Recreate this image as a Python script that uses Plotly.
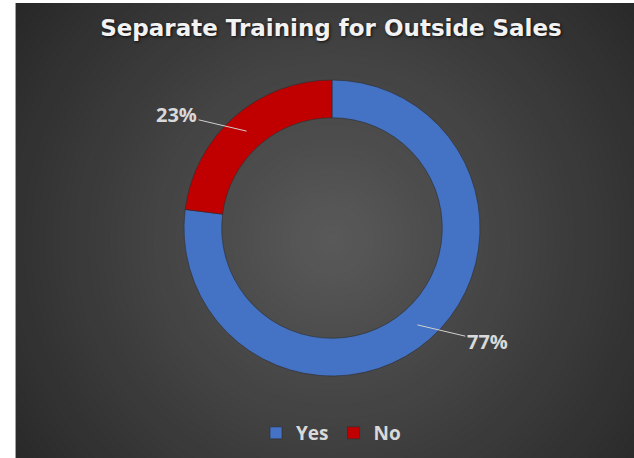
import math
import plotly.graph_objects as go

# Survey result: share of companies with separate training for outside sales
labels = ["Yes", "No"]
values = [77, 23]
colors = ["#4472C4", "#C00000"]
title_text = "Separate Training for Outside Sales"

W, H = 634, 458
CX, CY = 332, 228          # donut centre (px)
R_OUT = 148                # outer radius (px)
HOLE = 0.745

fig = go.Figure()

fig.add_trace(go.Pie(
    labels=labels,
    values=values,
    marker=dict(colors=colors, line=dict(color="rgba(45,45,45,0.6)", width=1)),
    hole=HOLE,
    sort=False,
    direction="clockwise",
    rotation=0,
    textinfo="none",
    hoverinfo="skip",
    domain=dict(
        x=[(CX - R_OUT) / W, (CX + R_OUT) / W],
        y=[1 - (CY + R_OUT) / H, 1 - (CY - R_OUT) / H],
    ),
))

# Percentage labels with leader lines from the middle of each ring segment
total = sum(values)
r_mid = R_OUT * (1 + HOLE) / 2
start = 0.0
for lab, v in zip(labels, values):
    theta = math.radians((start + v / 2) / total * 360)
    start += v
    px = CX + r_mid * math.sin(theta)
    py = CY - r_mid * math.cos(theta)
    side = 1 if math.sin(theta) >= 0 else -1
    fig.add_annotation(
        x=px / W, y=1 - py / H, xref="paper", yref="paper",
        text=f"{v}%",
        showarrow=True, arrowhead=0, arrowwidth=1, arrowcolor="#D0D0D0",
        ax=70 * side, ay=-22 * math.cos(theta),
        standoff=0,
        font=dict(family="Open Sans", size=20, color="#D9D9D9", weight="bold"),
    )

# Radial gradient background built from concentric discs
shapes = []
GX, GY = 332, 240
r_max = 430
steps = 60
c_in, c_out = 0x5A, 0x24
for i in range(steps, 0, -1):
    r = r_max * i / steps
    t = i / steps
    c = round(c_in + (c_out - c_in) * t)
    col = f"rgb({c},{c},{c})"
    shapes.append(dict(
        type="circle", xref="paper", yref="paper", layer="below",
        x0=(GX - r) / W, x1=(GX + r) / W,
        y0=1 - (GY + r) / H, y1=1 - (GY - r) / H,
        fillcolor=col, line=dict(width=0),
    ))
# white page margins around the chart area
shapes.append(dict(type="rect", xref="paper", yref="paper", layer="below",
                   x0=0, x1=15 / W, y0=0, y1=1,
                   fillcolor="white", line=dict(width=0)))
shapes.append(dict(type="rect", xref="paper", yref="paper", layer="below",
                   x0=0, x1=1, y0=1 - 3 / H, y1=1,
                   fillcolor="white", line=dict(width=0)))
shapes.append(dict(type="line", xref="paper", yref="paper", layer="below",
                   x0=15.5 / W, x1=15.5 / W, y0=0, y1=1 - 3 / H,
                   line=dict(color="#A0A0A0", width=1)))

fig.update_layout(
    width=W, height=H,
    margin=dict(l=0, r=0, t=0, b=0),
    paper_bgcolor="#262626",
    plot_bgcolor="#262626",
    shapes=shapes,
    title=dict(
        text=title_text,
        x=331 / W, xanchor="center", xref="paper",
        y=1 - 28 / H, yanchor="middle", yref="container",
        font=dict(family="DejaVu Sans", size=23, color="#F2F2F2",
                  weight="bold", shadow="1px 1px 3px rgba(0,0,0,0.8)"),
    ),
    showlegend=True,
    legend=dict(
        orientation="h",
        x=331 / W, xanchor="center",
        y=1 - 433 / H, yanchor="middle",
        font=dict(family="Open Sans", size=19, color="#D9D9D9", weight="bold"),
        bgcolor="rgba(0,0,0,0)",
        itemclick=False, itemdoubleclick=False,
    ),
)

fig.write_html("out.html")
